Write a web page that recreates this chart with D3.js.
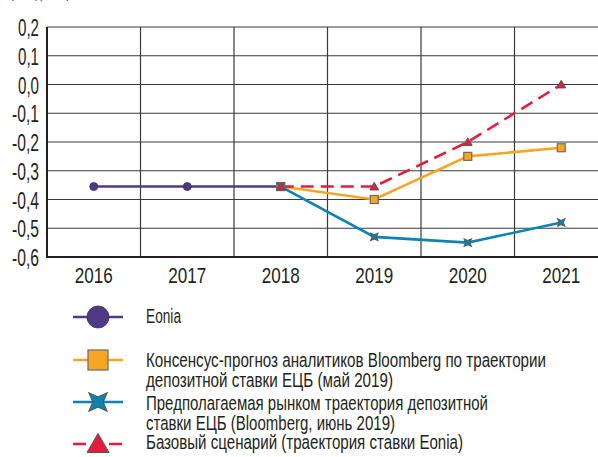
<!DOCTYPE html>
<html lang="ru">
<head>
<meta charset="utf-8">
<title>Eonia</title>
<style>
  body { margin: 0; padding: 0; background: #fff; }
  svg { display: block; }
  text { font-family: "Liberation Sans", Arial, sans-serif; fill: #231f20; }
</style>
</head>
<body>
<div id="chart"></div>
<script src="https://d3js.org/d3.v7.min.js"></script>
<script>
  // data
  const years = ["2016", "2017", "2018", "2019", "2020", "2021"];
  const yTicks = [0.2, 0.1, 0.0, -0.1, -0.2, -0.3, -0.4, -0.5, -0.6];

  const eonia = [-0.355, -0.355, -0.355, null, null, null];
  const consensus = [null, null, -0.355, -0.40, -0.25, -0.22];
  const market = [null, null, -0.355, -0.53, -0.55, -0.48];
  const baseCase = [null, null, -0.355, -0.355, -0.20, 0.0];

  const legendLabels = [
    ["Eonia"],
    ["Консенсус-прогноз аналитиков Bloomberg по траектории", "депозитной ставки ЕЦБ (май 2019)"],
    ["Предполагаемая рынком траектория депозитной", "ставки ЕЦБ (Bloomberg, июнь 2019)"],
    ["Базовый сценарий (траектория ставки Eonia)"]
  ];
  const legendWidths = [[35], [400, 247], [342, 249], [317]];

  const width = 598, height = 457;
  const svg = d3.select("#chart").append("svg")
    .attr("width", width)
    .attr("height", height);

  const x = d3.scaleBand().domain(years).range([47, 608]);
  const y = d3.scaleLinear().domain([-0.6, 0.2]).range([257, 27]);

  // cut-off unit label at the very top
  svg.append("text")
    .attr("x", 10).attr("y", -3)
    .attr("font-size", 20)
    .attr("textLength", 60).attr("lengthAdjust", "spacingAndGlyphs")
    .text("(% годовых)");

  // grid
  const grid = svg.append("g");
  grid.selectAll(".h").data(yTicks).enter().append("line")
    .attr("x1", 47).attr("x2", 608)
    .attr("y1", d => y(d)).attr("y2", d => y(d))
    .attr("stroke", "#3a3a3a").attr("stroke-width", 1.2);
  grid.selectAll(".v").data(years.slice(1)).enter().append("line")
    .attr("x1", d => x(d)).attr("x2", d => x(d))
    .attr("y1", y(0.2)).attr("y2", y(-0.6))
    .attr("stroke", "#3a3a3a").attr("stroke-width", 1.2);

  // axes lines
  svg.append("line").attr("x1", 47).attr("x2", 47)
    .attr("y1", y(0.2)).attr("y2", y(-0.6) + 1)
    .attr("stroke", "#231f20").attr("stroke-width", 2);
  svg.append("line").attr("x1", 46).attr("x2", 608)
    .attr("y1", y(-0.6)).attr("y2", y(-0.6))
    .attr("stroke", "#231f20").attr("stroke-width", 2);

  const fmt = v => (v < -0.001 ? "-" : "") + Math.abs(v).toFixed(1).replace(".", ",");
  svg.selectAll(".ytick").data(yTicks).enter().append("text")
    .attr("x", 39).attr("y", d => y(d) + 9)
    .attr("text-anchor", "end")
    .attr("font-size", 23)
    .attr("textLength", d => d < -0.001 ? 27 : 21)
    .attr("lengthAdjust", "spacingAndGlyphs")
    .text(fmt);

  svg.selectAll(".xtick").data(years).enter().append("text")
    .attr("x", d => x(d) + x.bandwidth() / 2).attr("y", 283)
    .attr("text-anchor", "middle")
    .attr("font-size", 22)
    .attr("textLength", 38)
    .attr("lengthAdjust", "spacingAndGlyphs")
    .text(d => d);

  // series
  const series = [
    { values: eonia, color: "#4e3a85", marker: "circle", dash: null },
    { values: consensus, color: "#f6a623", marker: "square", dash: null },
    { values: market, color: "#0a84b5", marker: "star", dash: null },
    { values: baseCase, color: "#e51d3a", marker: "triangle", dash: "13,7" }
  ];

  const starPath = s => {
    const a = s, b = s * 0.28;
    return `M0,${-a} L${b},${-b} L${a},0 L${b},${b} L0,${a} L${-b},${b} L${-a},0 L${-b},${-b} Z`;
  };

  function drawMarker(g, type, cx, cy, s, color) {
    if (type === "circle") {
      g.append("circle").attr("cx", cx).attr("cy", cy).attr("r", s)
        .attr("fill", color).attr("stroke", "#3b2d6a").attr("stroke-width", 0.8);
    } else if (type === "square") {
      g.append("rect").attr("x", cx - s).attr("y", cy - s)
        .attr("width", 2 * s).attr("height", 2 * s)
        .attr("fill", color).attr("stroke", "#6b6b6b").attr("stroke-width", 1.2);
    } else if (type === "star") {
      g.append("path").attr("d", starPath(s * 1.3))
        .attr("transform", `translate(${cx},${cy}) rotate(45)`)
        .attr("fill", color).attr("stroke", "#555").attr("stroke-width", 1);
    } else {
      g.append("path")
        .attr("d", `M0,${-s * 1.05} L${s * 1.1},${s * 0.85} L${-s * 1.1},${s * 0.85} Z`)
        .attr("transform", `translate(${cx},${cy})`)
        .attr("fill", color).attr("stroke", "#555").attr("stroke-width", 1);
    }
  }

  const line = d3.line()
    .defined(d => d != null)
    .x((d, i) => x(years[i]) + x.bandwidth() / 2)
    .y(d => y(d));

  series.forEach(s => {
    svg.append("path")
      .attr("d", line(s.values))
      .attr("fill", "none")
      .attr("stroke", s.color)
      .attr("stroke-width", 2.6)
      .attr("stroke-dasharray", s.dash);
  });
  series.forEach(s => {
    const g = svg.append("g");
    s.values.forEach((v, i) => {
      if (v == null) return;
      drawMarker(g, s.marker, x(years[i]) + x.bandwidth() / 2, y(v), 4, s.color);
    });
  });

  // legend
  const legendY = [317, 360, 402, 444];
  const textY = [[323], [367, 387], [410, 430], [449]];
  series.forEach((s, i) => {
    const g = svg.append("g");
    g.append("line").attr("x1", 73).attr("x2", 123)
      .attr("y1", legendY[i]).attr("y2", legendY[i])
      .attr("stroke", s.color).attr("stroke-width", 2.6)
      .attr("stroke-dasharray", s.dash ? "13,23,13" : null);
    drawMarker(g, s.marker, 98, legendY[i], s.marker === "circle" ? 11 : 10, s.color);
    legendLabels[i].forEach((t, j) => {
      g.append("text")
        .attr("x", 86 + 60).attr("y", textY[i][j])
        .attr("font-size", 20.5)
        .attr("textLength", legendWidths[i][j])
        .attr("lengthAdjust", "spacingAndGlyphs")
        .text(t);
    });
  });
</script>
</body>
</html>
